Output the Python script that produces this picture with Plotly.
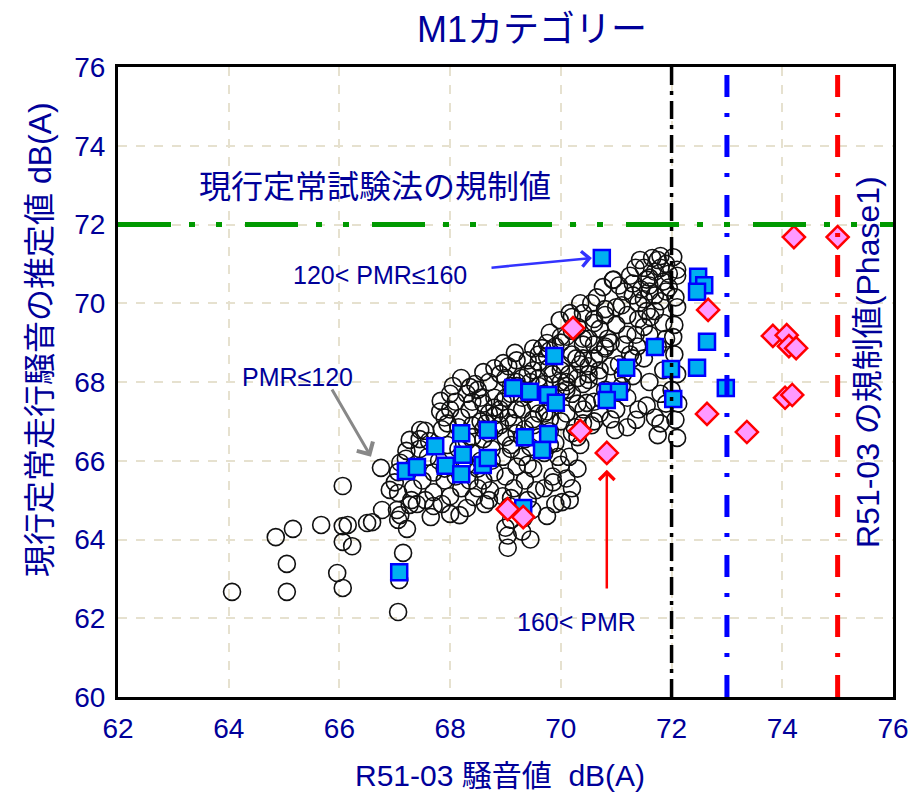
import plotly.graph_objects as go

# ---------------- data ----------------
# PMR<=120 (open circles)
circle_x = [
    64.06, 65.05, 65.05, 64.85, 65.16, 65.67, 66.06, 66.06, 66.15, 66.06, 66.23, 65.96, 66.06,
    66.50, 66.59, 66.77, 66.75, 66.91,
    67.06, 67.06, 67.04, 67.06, 67.10, 67.22, 67.27, 67.15, 67.06, 67.08, 67.33, 67.33, 67.10, 67.20, 67.00, 67.30,
    67.55, 67.65, 67.45, 67.60, 67.50, 67.70, 67.55, 67.40, 67.70, 67.62, 67.45, 67.70, 67.46, 67.27, 67.21,
    67.83, 68.05, 67.90, 67.85, 67.95, 67.80, 67.90, 68.00, 67.85, 68.00, 67.95, 68.00, 67.90, 68.00, 67.82,
    68.43, 68.20, 68.30, 68.10, 68.35, 68.15, 68.30, 68.40, 68.20, 68.35, 68.10, 68.30, 68.45, 68.20, 68.40,
    68.25, 68.40, 68.15, 68.30, 68.36, 68.17,
    68.50, 68.70, 68.60, 68.80, 68.55, 68.75, 68.60, 68.80, 68.55, 68.70, 68.60, 68.80, 68.50, 68.70, 68.60,
    68.80, 68.75, 68.65, 68.80, 68.55, 68.50, 68.72, 68.63,
    69.04, 69.00, 69.10, 68.95, 69.15, 69.00, 69.20, 68.95, 69.10, 69.20, 68.90, 69.05, 69.20, 68.95, 69.10,
    69.20, 68.90, 69.05, 69.20, 69.00, 69.15, 69.10, 69.10, 68.96, 69.17, 69.04, 69.07,
    69.30, 69.45, 69.40, 69.55, 69.35, 69.50, 69.30, 69.45, 69.60, 69.35, 69.50, 69.30, 69.55, 69.40, 69.60,
    69.30, 69.50, 69.40, 69.60, 69.50, 69.35, 69.60, 69.45, 69.66, 69.33, 69.48,
    69.75, 69.90, 69.70, 69.85, 70.00, 69.70, 69.90, 69.80, 70.00, 69.75, 69.90, 70.00, 69.70, 69.85, 70.00,
    69.75, 69.90, 70.00, 69.80, 69.95, 69.80, 70.00, 69.75, 69.98, 70.02, 69.86, 69.78,
    70.16, 70.20, 70.10, 70.30, 70.15, 70.35, 70.20, 70.40, 70.10, 70.30, 70.20, 70.40, 70.15, 70.35, 70.20,
    70.40, 70.10, 70.30, 70.35, 70.20, 70.40, 70.25, 70.10, 70.16, 70.47, 70.41, 70.28,
    70.55, 70.70, 70.60, 70.80, 70.50, 70.70, 70.60, 70.80, 70.50, 70.70, 70.60, 70.80, 70.55, 70.76, 70.95,
    70.65, 70.98, 70.90, 70.60, 70.75, 70.94, 70.85, 70.68,
    71.00, 71.20, 71.10, 71.30, 71.05, 71.25, 71.15, 71.35, 71.00, 71.20, 71.10, 71.30, 71.05, 71.25, 71.43,
    71.35, 71.36, 71.40, 71.20, 71.15, 71.40, 71.30, 71.45, 71.12, 71.38,
    71.75, 71.70, 71.55, 71.80, 71.60, 71.85, 71.50, 71.75, 71.60, 71.85, 71.55, 71.80, 71.60, 71.85, 71.70,
    71.75, 71.90, 71.55, 71.65, 71.80, 71.90, 71.90, 71.50, 71.60, 71.95, 71.70, 71.50, 71.95, 71.80, 71.62,
    72.10, 72.07, 72.03, 72.10, 72.10, 72.07, 72.05, 72.10, 72.00, 72.05, 72.10, 72.03, 72.12,
    68.90, 69.00, 69.20, 69.40, 69.60, 69.80, 70.00, 70.20, 70.40, 70.60, 70.80, 71.00, 69.10, 69.30, 69.50,
    69.70, 69.90, 70.10, 70.30, 70.50, 70.70, 70.90, 69.20, 69.60, 70.00, 70.40, 70.80, 71.20, 68.70, 68.90,
    69.30, 69.70, 70.10, 70.50, 70.90, 71.30, 68.40, 68.60, 68.80, 69.00, 71.60, 71.80, 71.40, 71.70, 71.90,
    71.50, 70.30, 70.60, 69.80, 69.40,
]
circle_y = [
    62.67, 62.67, 63.38, 64.06, 64.27, 64.37, 65.36, 64.34, 64.37, 63.94, 63.83, 63.15, 62.77,
    64.42, 64.44, 64.75, 65.82, 65.26,
    65.71, 65.18, 64.75, 64.50, 64.62, 64.27, 64.88, 63.66, 62.16, 62.97, 65.30, 65.84, 65.95, 66.05, 65.45, 65.00,
    66.76, 64.57, 66.30, 66.10, 65.50, 65.20, 65.00, 64.90, 65.70, 66.50, 66.55, 64.85, 66.78, 66.53, 66.25,
    67.52, 67.90, 67.10, 66.80, 66.40, 66.00, 65.50, 65.10, 64.90, 64.65, 66.95, 67.30, 65.80, 67.70, 67.25,
    65.08, 65.30, 64.80, 65.60, 65.50, 66.30, 66.50, 66.90, 67.10, 67.30, 67.50, 67.70, 67.95, 68.10, 66.20,
    66.00, 67.50, 66.85, 65.90, 67.87, 64.62,
    65.30, 65.00, 65.50, 65.70, 66.00, 66.30, 66.55, 66.80, 67.00, 67.20, 67.45, 67.60, 67.80, 68.00, 68.25,
    68.35, 66.00, 66.95, 67.15, 67.60, 65.80, 65.25, 64.90,
    63.79, 64.30, 64.50, 65.10, 65.30, 65.60, 65.85, 66.10, 66.40, 66.70, 66.90, 67.10, 67.30, 67.50, 67.70,
    68.00, 68.20, 68.40, 68.55, 66.60, 66.95, 67.90, 65.05, 68.48, 68.74, 64.10, 64.85,
    64.20, 64.00, 65.00, 65.25, 65.50, 65.80, 66.10, 66.35, 66.60, 66.80, 67.05, 67.30, 67.45, 67.70, 67.90,
    68.10, 68.30, 68.55, 68.70, 68.85, 66.55, 67.20, 68.00, 68.86, 64.55, 64.75,
    64.60, 64.90, 65.30, 65.60, 65.90, 66.20, 66.45, 66.75, 67.00, 67.25, 67.50, 67.75, 67.95, 68.20, 68.45,
    68.65, 68.90, 69.15, 69.25, 66.10, 67.05, 68.00, 68.99, 69.57, 64.95, 65.45, 68.35,
    65.00, 65.30, 65.55, 65.80, 66.10, 66.40, 66.70, 66.95, 67.20, 67.45, 67.70, 67.95, 68.20, 68.45, 68.70,
    68.95, 69.15, 69.40, 70.00, 69.65, 69.75, 66.85, 67.90, 69.75, 67.47, 67.30, 68.60,
    66.90, 67.20, 67.50, 67.80, 68.05, 68.30, 68.60, 68.85, 69.10, 69.35, 69.60, 69.85, 70.00, 70.41, 70.60,
    70.15, 66.78, 67.05, 68.95, 67.55, 70.59, 69.10, 68.15,
    67.30, 67.60, 67.90, 68.15, 68.45, 68.70, 68.95, 69.20, 69.45, 69.70, 69.95, 70.20, 70.45, 70.70, 71.10,
    70.90, 67.04, 67.30, 66.85, 70.30, 69.60, 70.50, 70.35, 68.20, 68.90,
    66.65, 67.10, 67.40, 67.70, 68.00, 68.30, 68.60, 68.90, 69.20, 69.50, 69.80, 70.05, 70.30, 70.55, 70.80,
    71.10, 71.00, 70.60, 71.15, 66.95, 67.45, 69.10, 70.90, 70.45, 70.40, 70.20, 70.10, 70.75, 71.20, 69.65,
    66.58, 67.04, 71.17, 70.85, 70.70, 70.15, 69.45, 68.20, 67.80, 68.70, 69.90, 69.14, 67.45,
    67.20, 67.60, 67.90, 68.20, 68.50, 68.80, 69.00, 69.30, 69.10, 69.50, 69.70, 69.90, 66.30, 66.60, 66.90,
    67.20, 67.50, 67.80, 68.10, 68.40, 68.70, 69.00, 67.90, 68.10, 68.30, 68.60, 68.90, 69.20, 66.70, 67.30,
    67.60, 67.70, 68.00, 68.20, 68.40, 68.60, 66.60, 66.80, 67.35, 68.10, 70.65, 70.90, 70.00, 69.80, 70.30,
    69.40, 66.60, 67.00, 66.40, 65.90,
]

# 120<PMR<=160 (blue squares)
square_x = [70.74, 72.48, 72.59, 72.46, 72.64, 71.70, 72.46, 71.99, 69.88, 71.18, 69.14, 69.44,
            69.77, 69.91, 70.85, 71.05, 70.83, 72.03, 72.98, 69.35, 69.77, 69.66,
            68.20, 68.68, 67.73, 67.20, 67.40, 67.92, 68.23, 68.20, 68.59, 68.68, 67.08, 69.32]
square_y = [71.15, 70.67, 70.46, 70.29, 69.02, 68.89, 68.36, 68.33, 68.66, 68.36, 67.85, 67.75,
            67.67, 67.47, 67.75, 67.75, 67.54, 67.57, 67.85, 66.60, 66.68, 66.27,
            66.70, 66.78, 66.37, 65.74, 65.84, 65.87, 66.15, 65.66, 65.89, 66.07, 63.17, 64.80]

# 160<PMR (pink diamonds)
diamond_x = [70.22, 70.35, 70.83, 69.04, 69.32, 72.66, 72.64, 73.36, 74.21, 75.00,
             73.83, 74.08, 74.12, 74.25, 74.05, 74.18]
diamond_y = [69.37, 66.76, 66.20, 64.77, 64.57, 69.83, 67.19, 66.73, 71.68, 71.68,
             69.17, 69.19, 68.91, 68.86, 67.60, 67.67]

x_ticks = [62, 64, 66, 68, 70, 72, 74, 76]
y_ticks = [60, 62, 64, 66, 68, 70, 72, 74, 76]

limit_current = 72      # 現行定常試験法の規制値
limit_black = 72
limit_blue = 73
limit_red = 75

NAVY = "#000099"
NARROW = "Liberation Sans Narrow, Arial Narrow, Liberation Sans, Arial, Noto Sans CJK JP, sans-serif"
SANS = "Liberation Sans, Arial, Noto Sans CJK JP, sans-serif"
CJK = "Liberation Sans, Noto Sans CJK JP, sans-serif"

fig = go.Figure()

fig.add_trace(go.Scatter(
    x=circle_x, y=circle_y, mode="markers", name="PMR≤120",
    marker=dict(symbol="circle", size=17, color="rgba(0,0,0,0)",
                line=dict(color="#111111", width=1.6)),
))
fig.add_trace(go.Scatter(
    x=square_x, y=square_y, mode="markers", name="120< PMR≤160",
    marker=dict(symbol="square", size=16, color="#00b0f0",
                line=dict(color="#0000ff", width=2.5)),
))
fig.add_trace(go.Scatter(
    x=diamond_x, y=diamond_y, mode="markers", name="160< PMR",
    marker=dict(symbol="diamond", size=17, color="#ff99ff",
                line=dict(color="#ff0000", width=2.5)),
))

# reference lines
fig.add_shape(type="line", xref="x", yref="y", x0=62, x1=76, y0=limit_current, y1=limit_current,
              line=dict(color="#009900", width=5, dash="53px,18px,6px,21px,6px,23px"), layer="above")
fig.add_shape(type="line", xref="x", yref="y", x0=limit_black, x1=limit_black, y0=60, y1=76,
              line=dict(color="#000000", width=3.5, dash="18px,6px,4px,6px"), layer="above")
fig.add_shape(type="line", xref="x", yref="y", x0=limit_blue, x1=limit_blue, y0=60, y1=76,
              line=dict(color="#0000ff", width=5, dash="22px,18px,4px,16px"), layer="above")
fig.add_shape(type="line", xref="x", yref="y", x0=limit_red, x1=limit_red, y0=60, y1=76,
              line=dict(color="#ff0000", width=5, dash="22px,18px,4px,16px"), layer="above")

# the page body margin is removed (post_script), so the figure fills the 914x807 window
L, R, T, B = 118, 21, 67, 110
W, H = 914, 807
pw, ph = W - L - R, H - T - B
def px_to_paper(px, py):
    return (px - L) / pw, (H - B - py) / ph

annotations = [
    dict(text="現行定常試験法の規制値", x=66.64, y=72.95, xref="x", yref="y", showarrow=False,
         font=dict(family=CJK, size=32, color=NAVY)),
    dict(text="120< PMR≤160", x=66.73, y=70.72, xref="x", yref="y", showarrow=False,
         font=dict(family=SANS, size=25, color=NAVY)),
    dict(text="PMR≤120", x=65.25, y=68.13, xref="x", yref="y", showarrow=False,
         font=dict(family=SANS, size=25, color=NAVY)),
    dict(text="160< PMR", x=70.29, y=61.9, xref="x", yref="y", showarrow=False,
         font=dict(family=SANS, size=25, color=NAVY)),
    # arrows
    dict(x=70.56, y=71.15, ax=68.72, ay=70.9, xref="x", yref="y", axref="x", ayref="y", text="",
         showarrow=True, arrowhead=4, arrowsize=1.2, arrowwidth=2.5, arrowcolor="#3333ff"),
    dict(x=66.57, y=66.1, ax=65.85, ay=67.85, xref="x", yref="y", axref="x", ayref="y", text="",
         showarrow=True, arrowhead=4, arrowsize=1.2, arrowwidth=3, arrowcolor="#888888"),
    dict(x=70.83, y=65.77, ax=70.83, ay=62.72, xref="x", yref="y", axref="x", ayref="y", text="",
         showarrow=True, arrowhead=4, arrowsize=1.2, arrowwidth=2.5, arrowcolor="#ff0000"),
]
titles = [
    ("M1カテゴリー", 532, 30, 0, 36),
    ("R51-03 騒音値  dB(A)", 500, 775, 0, 30),
    ("現行定常走行騒音の推定値 dB(A)", 40, 340, -90, 32),
    ("R51-03 の規制値(Phase1)", 868, 362, -90, 32),
]
for text, px, py, ang, size in titles:
    xp, yp = px_to_paper(px, py)
    annotations.append(dict(text=text, x=xp, y=yp, xref="paper", yref="paper", showarrow=False,
                            textangle=ang, xanchor="center", yanchor="middle",
                            font=dict(family=CJK, size=size, color=NAVY)))

fig.update_layout(
    width=W, height=H, autosize=False,
    margin=dict(l=L, r=R, t=T, b=B),
    paper_bgcolor="white", plot_bgcolor="white",
    showlegend=False,
    annotations=annotations,
)
axis_common = dict(
    showgrid=True, gridcolor="#e6e1cf", gridwidth=1.5, griddash="dash",
    showline=True, linecolor="black", linewidth=3, mirror=True,
    ticks="", zeroline=False, ticklabeloverflow="allow", automargin=False,
    tickfont=dict(family=NARROW, size=28, color=NAVY),
)
fig.update_xaxes(range=[62, 76], tickvals=x_ticks, ticktext=[str(v) for v in x_ticks],
                 ticklabelstandoff=4, **axis_common)
fig.update_yaxes(range=[60, 76], tickvals=y_ticks, ticktext=[str(v) for v in y_ticks],
                 ticklabelstandoff=4, **axis_common)

fig.write_html("out.html", config={"responsive": False, "displayModeBar": False},
               post_script="document.body.style.margin='0';document.body.style.overflow='hidden';")
